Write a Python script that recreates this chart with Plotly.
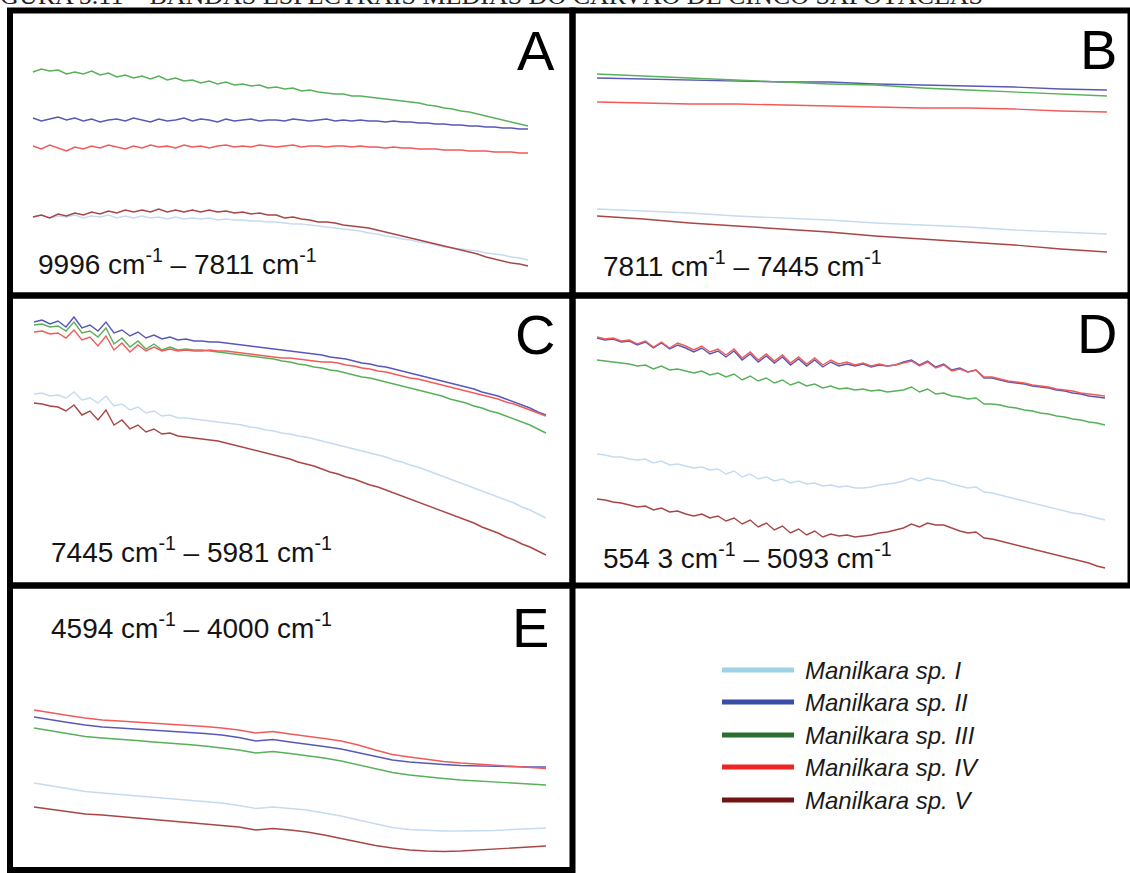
import numpy as np
import plotly.graph_objects as go

W, H = 1130, 873

# Wavenumber windows (cm-1) of each panel, left end first
A_WN = (9996, 7811)
B_WN = (7811, 7445)
C_WN = (7445, 5981)
D_WN = (5543, 5093)
E_WN = (4594, 4000)

SPECIES = ["Manilkara sp. I", "Manilkara sp. II", "Manilkara sp. III",
           "Manilkara sp. IV", "Manilkara sp. V"]

# ---- mean spectra (absorbance, arbitrary offset) ----
A_I = [.083, .085, .082, .084, .083, .085, .082, .084, .083, .085, .082, .084, .082, .084, .082,
       .083, .081, .083, .081, .082, .081, .082, .080, .081, .080, .080, .079, .079, .078, .078,
       .077, .076, .076, .075, .074, .073, .072, .071, .070, .069, .067, .066, .064, .063, .061,
       .060, .058, .057, .055, .053, .052, .051, .050, .049, .047, .046, .045, .043, .042, .040]
A_II = [.182, .179, .181, .183, .180, .182, .179, .181, .178, .180, .181, .179, .182, .180, .178,
        .181, .179, .180, .182, .179, .181, .180, .178, .181, .179, .180, .181, .179, .180, .180,
        .179, .181, .180, .179, .180, .181, .179, .180, .179, .180, .179, .179, .178, .179, .178,
        .178, .177, .177, .176, .176, .175, .175, .174, .174, .173, .173, .172, .172, .171, .171]
A_III = [.228, .231, .229, .230, .226, .228, .226, .229, .225, .227, .223, .225, .222, .224, .221,
         .224, .220, .222, .219, .220, .217, .219, .216, .218, .215, .216, .214, .215, .212, .213,
         .211, .212, .209, .210, .208, .207, .206, .206, .204, .204, .203, .202, .201, .200, .199,
         .198, .197, .195, .194, .192, .191, .189, .188, .186, .184, .182, .180, .178, .176, .174]
A_IV = [.154, .151, .155, .152, .149, .153, .151, .154, .152, .155, .153, .151, .154, .152, .155,
        .153, .154, .152, .155, .153, .154, .152, .154, .155, .153, .154, .153, .155, .154, .153,
        .154, .155, .153, .154, .154, .153, .154, .154, .153, .154, .153, .153, .152, .153, .152,
        .152, .151, .151, .151, .150, .150, .150, .149, .149, .149, .148, .148, .148, .147, .147]
A_V = [.083, .085, .082, .086, .084, .087, .085, .088, .086, .089, .087, .090, .088, .090, .088,
       .091, .088, .090, .088, .090, .088, .090, .088, .089, .087, .088, .086, .087, .085, .085,
       .082, .083, .081, .080, .078, .078, .077, .075, .074, .073, .072, .070, .068, .066, .064,
       .062, .060, .058, .056, .054, .052, .050, .048, .046, .043, .041, .039, .037, .036, .034]

B_I = [.091, .089, .087, .084, .082, .080, .077, .075, .073, .070, .068, .066]
B_II = [.222, .221, .220, .219, .218, .218, .216, .215, .214, .213, .211, .210]
B_III = [.226, .224, .222, .220, .218, .216, .215, .212, .210, .208, .206, .204]
B_IV = [.198, .197, .196, .196, .195, .194, .193, .192, .192, .191, .189, .188]
B_V = [.084, .081, .077, .074, .071, .068, .064, .061, .058, .055, .051, .048]

C_I = [.206, .207, .204, .205, .202, .208, .200, .202, .197, .204, .194, .196, .190, .193, .187,
       .189, .184, .185, .182, .182, .181, .180, .179, .178, .177, .176, .175, .173, .172, .170,
       .169, .167, .166, .164, .163, .161, .159, .157, .155, .153, .151, .149, .147, .145, .143,
       .140, .138, .135, .133, .130, .127, .124, .121, .118, .115, .112, .109, .106, .103, .100,
       .097, .093, .090, .086, .082]
C_II = [.278, .280, .276, .279, .273, .283, .272, .275, .269, .278, .267, .270, .264, .268, .262,
        .265, .261, .263, .260, .261, .259, .259, .258, .258, .257, .256, .255, .254, .253, .252,
        .251, .250, .249, .248, .247, .246, .245, .243, .242, .241, .239, .237, .236, .234, .233,
        .231, .229, .227, .225, .223, .221, .219, .217, .215, .213, .211, .208, .206, .204, .201,
        .198, .195, .192, .188, .185]
C_III = [.275, .276, .273, .274, .269, .278, .267, .269, .263, .272, .256, .262, .253, .259, .251,
         .256, .250, .253, .250, .251, .250, .250, .249, .248, .247, .246, .245, .244, .243, .242,
         .241, .239, .238, .236, .235, .233, .232, .230, .229, .227, .225, .223, .222, .220, .218,
         .216, .214, .212, .210, .208, .206, .204, .201, .199, .197, .194, .192, .189, .187, .184,
         .181, .178, .175, .171, .167]
C_IV = [.268, .269, .266, .267, .262, .270, .260, .263, .254, .264, .250, .257, .248, .255, .249,
        .253, .249, .251, .249, .250, .249, .249, .250, .249, .249, .248, .247, .246, .245, .244,
        .243, .242, .242, .241, .240, .239, .238, .238, .237, .235, .234, .232, .231, .229, .228,
        .226, .224, .222, .221, .219, .217, .215, .213, .211, .209, .207, .205, .203, .201, .198,
        .196, .193, .190, .187, .184]
C_V = [.197, .196, .194, .193, .189, .195, .185, .189, .180, .190, .175, .180, .171, .175, .168,
       .171, .166, .167, .164, .163, .162, .161, .160, .159, .157, .155, .153, .151, .149, .147,
       .145, .143, .141, .138, .136, .134, .131, .128, .126, .123, .121, .118, .115, .113, .110,
       .107, .104, .101, .098, .095, .092, .089, .086, .083, .080, .077, .073, .070, .067, .063,
       .060, .056, .053, .049, .045]

D_I = [.146, .145, .143, .143, .141, .140, .141, .137, .139, .135, .136, .134, .132, .133, .130,
       .131, .126, .129, .123, .126, .121, .123, .119, .121, .117, .119, .116, .117, .114, .115,
       .113, .114, .112, .112, .113, .115, .116, .117, .119, .122, .119, .122, .120, .119, .116,
       .114, .112, .113, .108, .107, .105, .103, .101, .099, .097, .095, .093, .091, .089, .087,
       .086, .084, .082, .080]
D_II = [.262, .260, .261, .258, .259, .255, .258, .252, .257, .251, .255, .252, .248, .252, .246,
        .249, .243, .249, .240, .246, .238, .244, .237, .243, .235, .241, .234, .240, .233, .238,
        .234, .236, .234, .236, .233, .235, .234, .235, .238, .240, .235, .239, .233, .236, .230,
        .232, .228, .230, .222, .222, .220, .218, .217, .216, .214, .213, .212, .210, .209, .207,
        .206, .204, .203, .202]
D_III = [.240, .239, .238, .237, .236, .234, .235, .231, .234, .230, .231, .229, .227, .229, .225,
         .227, .223, .226, .220, .224, .219, .222, .217, .220, .215, .218, .214, .216, .212, .214,
         .211, .212, .210, .211, .209, .210, .208, .209, .210, .213, .208, .211, .206, .207, .204,
         .203, .201, .202, .196, .196, .195, .193, .192, .190, .189, .187, .186, .184, .183, .181,
         .180, .178, .177, .175]
D_IV = [.263, .261, .262, .259, .260, .256, .259, .253, .258, .252, .257, .254, .250, .254, .248,
        .251, .245, .251, .242, .248, .240, .246, .239, .245, .237, .243, .236, .242, .235, .240,
        .236, .238, .235, .237, .234, .236, .234, .235, .237, .239, .234, .238, .232, .235, .229,
        .231, .228, .230, .223, .223, .221, .219, .218, .217, .215, .214, .213, .211, .210, .209,
        .207, .206, .205, .204]
D_V = [.101, .100, .098, .097, .095, .093, .094, .090, .092, .088, .089, .086, .084, .086, .082,
       .084, .079, .082, .076, .080, .073, .077, .070, .074, .067, .071, .065, .069, .063, .066,
       .064, .065, .063, .064, .065, .067, .068, .070, .072, .076, .073, .077, .075, .075, .072,
       .069, .067, .068, .062, .061, .059, .057, .055, .053, .051, .049, .047, .045, .043, .041,
       .039, .037, .034, .032]

E_I = [.117, .114, .111, .1085, .107, .1055, .104, .1025, .101, .0995, .098, .097, .0945, .0915,
       .093, .0915, .090, .087, .084, .080, .076, .0725, .0705, .0695, .069, .069, .069, .0695,
       .0705, .0715, .072]
E_II = [.183, .180, .1775, .175, .173, .172, .171, .170, .169, .168, .1665, .165, .1625, .159,
        .1605, .158, .156, .1535, .151, .1475, .1435, .140, .138, .1365, .1355, .1345, .134,
        .1335, .1335, .133, .133]
E_III = [.172, .169, .166, .1635, .162, .161, .1595, .158, .157, .1555, .154, .152, .150, .147,
         .1485, .1465, .1445, .142, .139, .135, .131, .1275, .125, .123, .1215, .120, .119,
         .118, .117, .116, .115]
E_IV = [.190, .187, .1845, .182, .180, .179, .178, .177, .176, .175, .1735, .172, .170, .167,
        .1685, .166, .164, .1615, .159, .155, .150, .1455, .143, .1405, .1385, .137, .136,
        .135, .1335, .1325, .1315]
E_V = [.093, .0905, .088, .086, .085, .0835, .082, .081, .0795, .078, .0765, .075, .073, .070,
       .0715, .070, .068, .065, .0615, .058, .0545, .052, .050, .049, .0485, .049, .050, .051,
       .052, .053, .054]

# ---- styling ----
LINE_COLORS = ["#c4dbf2", "#5858b8", "#58b058", "#f25a5a", "#a84646"]
KEY_COLORS = ["#9ed3e6", "#3a4ea8", "#2c6e30", "#ee2424", "#731414"]
FONT = "Liberation Sans, Arial, sans-serif"


def fx(p):
    return p / W


def fy(p):
    return 1 - p / H


# panel: series, wavenumber window, axis ranges, plot box (px), label, label pos, letter pos
PANELS = [
    dict(series=[A_I, A_II, A_III, A_IV, A_V], wn=A_WN, xr=[10084, 7630], yr=[0.008, 0.287],
         box=(13, 569, 13, 292), label="9996 cm<sup>-1</sup> – 7811 cm<sup>-1</sup>",
         lpos=(36, 262), letter="A", cpos=(536, 50)),
    dict(series=[B_I, B_II, B_III, B_IV, B_V], wn=B_WN, xr=[7826.1, 7430.6], yr=[0.008, 0.287],
         box=(576, 1127, 13, 292), label="7811 cm<sup>-1</sup> – 7445 cm<sup>-1</sup>",
         lpos=(601, 264), letter="B", cpos=(1098, 49)),
    dict(series=[C_I, C_II, C_III, C_IV, C_V], wn=C_WN, xr=[7505, 5915], yr=[0.018, 0.301],
         box=(13, 569, 299, 582), label="7445 cm<sup>-1</sup> – 5981 cm<sup>-1</sup>",
         lpos=(49, 550), letter="C", cpos=(535, 334)),
    dict(series=[D_I, D_II, D_III, D_IV, D_V], wn=D_WN, xr=[5561.6, 5073.5], yr=[0.018, 0.301],
         box=(576, 1127, 299, 582), label="554 3 cm<sup>-1</sup> – 5093 cm<sup>-1</sup>",
         lpos=(601, 556), letter="D", cpos=(1097, 333)),
    dict(series=[E_I, E_II, E_III, E_IV, E_V], wn=E_WN, xr=[4618.4, 3973.3], yr=[0.033, 0.311],
         box=(13, 569, 589, 867), label="4594 cm<sup>-1</sup> – 4000 cm<sup>-1</sup>",
         lpos=(49, 626), letter="E", cpos=(530, 627)),
]

fig = go.Figure()
layout_axes = {}
annotations = []
shapes = []

for k, p in enumerate(PANELS, start=1):
    sfx = "" if k == 1 else str(k)
    x0, x1, y0, y1 = p["box"]
    for idx, vals in enumerate(p["series"]):
        wn = np.linspace(p["wn"][0], p["wn"][1], len(vals))
        fig.add_trace(go.Scatter(
            x=wn, y=vals, mode="lines", name=SPECIES[idx], showlegend=False,
            line=dict(color=LINE_COLORS[idx], width=1.4),
            xaxis="x" + sfx, yaxis="y" + sfx, hoverinfo="skip"))
    layout_axes["xaxis" + sfx] = dict(domain=[fx(x0), fx(x1)], range=p["xr"], visible=False,
                                      anchor="y" + sfx, fixedrange=True)
    layout_axes["yaxis" + sfx] = dict(domain=[fy(y1), fy(y0)], range=p["yr"], visible=False,
                                      anchor="x" + sfx, fixedrange=True)
    annotations.append(dict(
        text=p["label"], xref="paper", yref="paper", x=fx(p["lpos"][0]), y=fy(p["lpos"][1]),
        xanchor="left", yanchor="middle", showarrow=False,
        font=dict(family=FONT, size=28, color="#141414")))
    annotations.append(dict(
        text=p["letter"], xref="paper", yref="paper", x=fx(p["cpos"][0]), y=fy(p["cpos"][1]),
        xanchor="center", yanchor="middle", showarrow=False,
        font=dict(family=FONT, size=56, color="#000000")))

# panel frames
FRAMES = [(10, 572.5, 10.5, 295.5), (572.5, 1130.5, 10.5, 295.5),
          (10, 572.5, 295.5, 585.5), (572.5, 1130.5, 295.5, 585.5),
          (10, 572.5, 585.5, 870)]
for (l, r, t, b) in FRAMES:
    shapes.append(dict(type="rect", xref="paper", yref="paper",
                       x0=fx(l), x1=fx(r), y0=fy(b), y1=fy(t),
                       line=dict(color="#000000", width=6), layer="above"))

# species key
KEY_ROWS = [670, 702, 735, 767, 800]
for idx, row in enumerate(KEY_ROWS):
    shapes.append(dict(type="line", xref="paper", yref="paper",
                       x0=fx(722), x1=fx(794), y0=fy(row), y1=fy(row),
                       line=dict(color=KEY_COLORS[idx], width=5)))
    annotations.append(dict(
        text="<i>" + SPECIES[idx] + "</i>", xref="paper", yref="paper",
        x=fx(803), y=fy(row), xanchor="left", yanchor="middle", showarrow=False,
        font=dict(family=FONT, size=24, color="#1a1a1a")))

# figure caption, running off the top edge
annotations.append(dict(
    text="FIGURA 5.11 – BANDAS ESPECTRAIS MÉDIAS DO CARVÃO DE CINCO SAPOTÁCEAS",
    xref="paper", yref="paper", x=fx(985), y=fy(12), xanchor="right", yanchor="bottom",
    showarrow=False, font=dict(family="Liberation Serif, Times New Roman, serif", size=26,
                               color="#222222")))

fig.update_layout(
    width=W, height=H, margin=dict(l=0, r=0, t=0, b=0),
    paper_bgcolor="#ffffff", plot_bgcolor="rgba(0,0,0,0)",
    showlegend=False, annotations=annotations, shapes=shapes, **layout_axes)

fig.write_html("out.html", config=dict(displayModeBar=False))
